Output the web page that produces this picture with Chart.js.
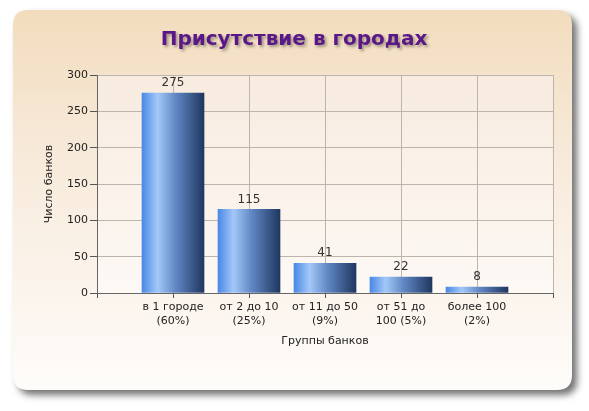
<!DOCTYPE html>
<html><head><meta charset="utf-8">
<script src="https://cdn.jsdelivr.net/npm/chart.js@4"></script>
<style>html,body{margin:0;padding:0;background:#fff;}canvas{display:block}</style>
</head><body>
<canvas id="c" width="589" height="411"></canvas>
<script>
const chartTitle = 'Присутствие в городах';
const categories = [['в 1 городе','(60%)'],['от 2 до 10','(25%)'],['от 11 до 50','(9%)'],['от 51 до','100 (5%)'],['более 100','(2%)']];
const values = [275, 115, 41, 22, 8];
const yMin = 0, yMax = 300, yStep = 50;
const xTitle = 'Группы банков';
const yTitle = 'Число банков';

// padded category axis: one empty slot on each side
const labels = [''].concat(categories, ['']);
const data = [null].concat(values, [null]);

const FONT = "'DejaVu Sans', sans-serif";

function roundRect(ctx, x, y, w, h, r) {
  ctx.beginPath();
  ctx.moveTo(x + r, y);
  ctx.lineTo(x + w - r, y);
  ctx.quadraticCurveTo(x + w, y, x + w, y + r);
  ctx.lineTo(x + w, y + h - r);
  ctx.quadraticCurveTo(x + w, y + h, x + w - r, y + h);
  ctx.lineTo(x + r, y + h);
  ctx.quadraticCurveTo(x, y + h, x, y + h - r);
  ctx.lineTo(x, y + r);
  ctx.quadraticCurveTo(x, y, x + r, y);
  ctx.closePath();
}

const bgPlugin = {
  id: 'bg',
  beforeDraw(chart) {
    const ctx = chart.ctx;
    const ca = chart.chartArea;
    ctx.save();
    ctx.shadowColor = 'rgba(0,0,0,0.55)';
    ctx.shadowBlur = 7;
    ctx.shadowOffsetX = 5;
    ctx.shadowOffsetY = 5;
    const g = ctx.createLinearGradient(0, 10, 0, 390);
    g.addColorStop(0, '#f2dcbd');
    g.addColorStop(0.35, '#f7e9d8');
    g.addColorStop(1, '#fefcfa');
    roundRect(ctx, 13, 10, 559, 380, 15);
    ctx.fillStyle = g;
    ctx.fill();
    ctx.restore();

    ctx.save();
    const pg = ctx.createLinearGradient(0, ca.top, 0, ca.bottom);
    pg.addColorStop(0, '#f8ebdf');
    pg.addColorStop(1, '#fdf9f5');
    ctx.fillStyle = pg;
    ctx.fillRect(ca.left, ca.top, ca.right - ca.left, ca.bottom - ca.top);
    ctx.restore();

    ctx.save();
    ctx.font = "bold 20px " + FONT;
    ctx.textAlign = 'center';
    ctx.textBaseline = 'middle';
    ctx.shadowColor = 'rgba(0,0,0,0.35)';
    ctx.shadowBlur = 3;
    ctx.shadowOffsetX = 2;
    ctx.shadowOffsetY = 2;
    ctx.fillStyle = '#5a1787';
    ctx.fillText(chartTitle, 294, 40);
    ctx.restore();
  }
};

const labelPlugin = {
  id: 'vals',
  afterDatasetsDraw(chart) {
    const ctx = chart.ctx;
    const meta = chart.getDatasetMeta(0);
    ctx.save();
    ctx.font = "12px " + FONT;
    ctx.fillStyle = '#333';
    ctx.textAlign = 'center';
    ctx.textBaseline = 'bottom';
    meta.data.forEach((el, i) => {
      const v = data[i];
      if (v === null || v === undefined) return;
      ctx.fillText(String(v), el.x, el.y - 4);
    });
    ctx.restore();
  }
};

function barFill(c) {
  const chart = c.chart;
  if (!chart.chartArea || !chart.scales.x) return '#4a7fd0';
  const cx = chart.scales.x.getPixelForValue(c.dataIndex);
  const l = cx - 31, r = cx + 31;
  const g = chart.ctx.createLinearGradient(l, 0, r, 0);
  g.addColorStop(0, '#4a88e6');
  g.addColorStop(0.25, '#a3c8f8');
  g.addColorStop(0.55, '#5f86c2');
  g.addColorStop(1, '#1f3760');
  return g;
}

new Chart(document.getElementById('c'), {
  type: 'bar',
  data: {
    labels: labels,
    datasets: [{
      data: data,
      backgroundColor: barFill,
      borderWidth: 0,
      barThickness: 62
    }]
  },
  options: {
    responsive: false,
    animation: false,
    devicePixelRatio: 1,
    layout: { padding: { left: 0, right: 36, top: 75, bottom: 0 } },
    plugins: { legend: { display: false }, tooltip: { enabled: false }, title: { display: false } },
    scales: {
      x: {
        offset: false,
        grid: { offset: false, color: '#bdb5ab', tickColor: '#555', tickLength: 5, drawOnChartArea: true },
        border: { color: '#666' },
        ticks: { autoSkip: false, maxRotation: 0, minRotation: 0, padding: 2, color: '#222', font: { family: FONT, size: 11, lineHeight: 1.3 } },
        title: { display: true, text: xTitle, color: '#222', font: { family: FONT, size: 11 }, padding: { top: 0, bottom: 63 } },
        afterFit(s) { s.height = 118; }
      },
      y: {
        min: yMin, max: yMax,
        grid: { color: '#bdb5ab', tickColor: '#555', tickLength: 7 },
        border: { color: '#666' },
        ticks: { stepSize: yStep, padding: 2, color: '#222', font: { family: FONT, size: 11 } },
        title: { display: true, text: yTitle, color: '#222', font: { family: FONT, size: 11 }, padding: { top: 43, bottom: 0 } },
        afterFit(s) { s.width = 97; }
      }
    }
  },
  plugins: [bgPlugin, labelPlugin]
});
</script>
</body></html>
